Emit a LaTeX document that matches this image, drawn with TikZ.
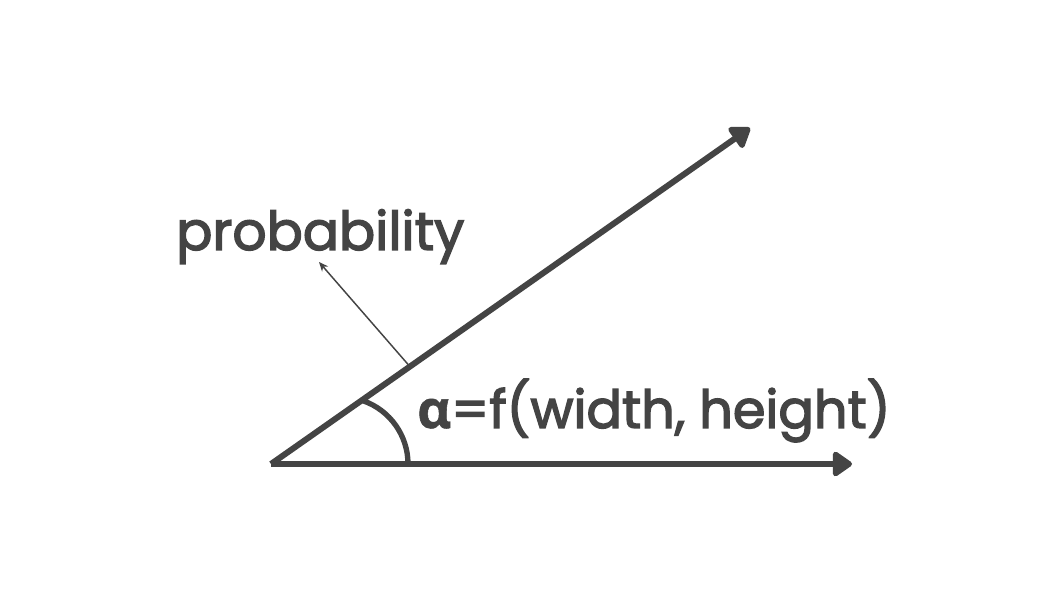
\documentclass[tikz,border=0pt]{standalone}
\usepackage{fontspec}
\setmainfont{Poppins}
\newfontfamily\labelfont{Poppins}[FakeBold=2.6]
\newfontfamily\greekfont{Open Sans}[FakeBold=1]
\usetikzlibrary{arrows.meta,calc}
\definecolor{ink}{RGB}{68,68,68}
\begin{document}
\begin{tikzpicture}[x=0.75pt,y=0.75pt,
  axis/.style={draw=ink,line width=4.5pt,-{Triangle[length=16pt,width=21pt,round]}},
  anglearc/.style={draw=ink,line width=4pt},
  pointer/.style={draw=ink,line width=1.1pt,-{Stealth[length=7pt,width=6pt]}},
  lbl/.style={text=ink,inner sep=0pt,anchor=base west,font=\labelfont}]
\fill[white] (0,0) rectangle (1060,596);
\useasboundingbox (0,0) rectangle (1060,596);
\coordinate (O) at (271,132);
\coordinate (xend) at (852,132);
\coordinate (dend) at (750,468);
\coordinate (arcstart) at (408,132);
\coordinate (pstart) at ($(O)!0.29!(dend)$);
\coordinate (ptip) at (319,334);
\draw[axis] (O) -- (xend);
\draw[axis] (O) -- (dend);
\draw[anglearc] (arcstart) arc[start angle=0,end angle=70.7,radius=67];
\draw[pointer] (pstart) -- (ptip);
\node[lbl] (prob) at (176,346) {\resizebox{216pt}{!}{probability}};
\node[lbl] (alpha) at (417,168) {\resizebox{355pt}{!}{{\greekfont\bfseries α}=f(width, height)}};
\end{tikzpicture}
\end{document}
